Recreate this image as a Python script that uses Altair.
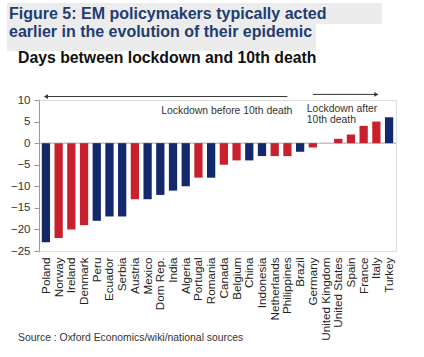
import altair as alt
import pandas as pd

# ---- data ----
countries = ["Poland", "Norway", "Ireland", "Denmark", "Peru", "Ecuador", "Serbia",
             "Austria", "Mexico", "Dom Rep.", "India", "Algeria", "Portugal", "Romania",
             "Canada", "Belgium", "China", "Indonesia", "Netherlands", "Philippines",
             "Brazil", "Germany", "United Kingdom", "United States", "Spain", "France",
             "Italy", "Turkey"]
days = [-23, -22, -20, -19, -18, -17, -17, -13, -13, -12, -11, -10, -8, -8,
        -5, -4, -4, -3, -3, -3, -2, -1, 0, 1, 2, 4, 5, 6]
groups = ["EM", "DM", "DM", "DM", "EM", "EM", "EM", "DM", "EM", "EM", "EM", "EM", "DM", "EM",
          "DM", "DM", "EM", "EM", "DM", "DM", "EM", "DM", "DM", "DM", "DM", "DM", "DM", "EM"]
y_ticks = [10, 5, 0, -5, -10, -15, -20, -25]

title_lines = ["Figure 5: EM policymakers typically acted",
               "earlier in the evolution of their epidemic"]
subtitle = "Days between lockdown and 10th death"
source = "Source : Oxford Economics/wiki/national sources"

arrow_start = ["Poland", "Germany"]
arrow_end = ["Philippines", "Italy"]
arrow_level = [10.8, 11.3]
note_before = "Lockdown before 10th death"
note_after = ["Lockdown after", "10th death"]

NAVY = "#13296b"
RED = "#c8202d"
FONT = "Liberation Sans"

df = pd.DataFrame({"country": countries, "days": days, "group": groups})

xscale = alt.Scale(domain=countries, paddingInner=0.35, paddingOuter=0.22)
yscale = alt.Scale(domain=[-25, 10], nice=False, zero=False)

x_axis = alt.Axis(title=None, labelAngle=-90, domain=False, ticks=False,
                  labelPadding=6, labelFontSize=11.7, labelColor="#222222",
                  labelFont=FONT, labelOverlap=False)
y_axis = alt.Axis(title=None, values=y_ticks, grid=False, tickSize=5,
                  tickColor="#9a9a9a", domainColor="#9a9a9a", labelPadding=4,
                  labelFontSize=11.5, labelColor="#333333", labelFont=FONT,
                  labelOverlap=False, labelFlush=False)


def X(field):
    return alt.X(field, sort=countries, scale=xscale, axis=x_axis)


def Y(field):
    return alt.Y(field, scale=yscale, axis=y_axis)


bars = alt.Chart(df).mark_bar().encode(
    x=X("country:N"),
    y=Y("days:Q"),
    color=alt.Color("group:N", scale=alt.Scale(domain=["EM", "DM"], range=[NAVY, RED]),
                    legend=None),
)

zero = alt.Chart(pd.DataFrame({"z": [0]})).mark_rule(color="#a6a6a6", strokeWidth=1).encode(
    y=Y("z:Q")
)

arrows_df = pd.DataFrame({"start": arrow_start, "end": arrow_end, "level": arrow_level})
arrow_lines = alt.Chart(arrows_df).mark_rule(color="#333333", strokeWidth=1).encode(
    x=X("start:N"), x2="end:N", y=Y("level:Q"),
)
head_left = alt.Chart(arrows_df.iloc[[0]]).mark_point(
    shape="triangle-left", filled=True, size=22, color="#333333", opacity=1
).encode(x=X("start:N"), y=Y("level:Q"))
head_right = alt.Chart(arrows_df.iloc[[1]]).mark_point(
    shape="triangle-right", filled=True, size=22, color="#333333", opacity=1
).encode(x=X("end:N"), y=Y("level:Q"))

before_df = pd.DataFrame({"t": [note_before], "c": ["Philippines"], "v": [7.4]})
before_txt = alt.Chart(before_df).mark_text(
    align="right", baseline="middle", dx=5, fontSize=10.4, color="#333333", font=FONT
).encode(x=X("c:N"), y=Y("v:Q"), text="t:N")

after_df = pd.DataFrame({"t": note_after, "c": ["Germany", "Germany"], "v": [8.0, 5.4]})
after_txt = alt.Chart(after_df).mark_text(
    align="left", baseline="middle", dx=-6, fontSize=10.4, color="#333333", font=FONT
).encode(x=X("c:N"), y=Y("v:Q"), text="t:N")

one = pd.DataFrame({"k": [0]})
bg1 = alt.Chart(one).mark_rect(color="#ececec").encode(
    x=alt.value(-32), x2=alt.value(343), y=alt.value(-97), y2=alt.value(-76))
bg2 = alt.Chart(one).mark_rect(color="#ececec").encode(
    x=alt.value(-32), x2=alt.value(277), y=alt.value(-76), y2=alt.value(-49))


def label(text, x, y, size, weight, color):
    return alt.Chart(one).mark_text(
        align="left", baseline="alphabetic", fontSize=size, fontWeight=weight,
        color=color, font=FONT
    ).encode(x=alt.value(x), y=alt.value(y), text=alt.value(text))


t1 = label(title_lines[0], -30, -81, 16, "bold", "#1f3c73")
t2 = label(title_lines[1], -30, -63, 16, "bold", "#1f3c73")
st = label(subtitle, -21, -37, 15.8, "bold", "#111111")
src = label(source, -21, 241, 10.4, "normal", "#333333")

chart = alt.layer(
    bg1, bg2, t1, t2, st, zero, bars, arrow_lines, head_left, head_right,
    before_txt, after_txt, src
).properties(
    width=357, height=151,
    autosize=alt.AutoSizeParams(type="none"),
    padding={"left": 39, "top": 100, "right": 28, "bottom": 106},
    background="white",
).configure_view(stroke=None).configure_axis(labelOverlap=False).configure(font=FONT)

chart.save("out.html", embed_options={"renderer": "svg", "actions": False})
